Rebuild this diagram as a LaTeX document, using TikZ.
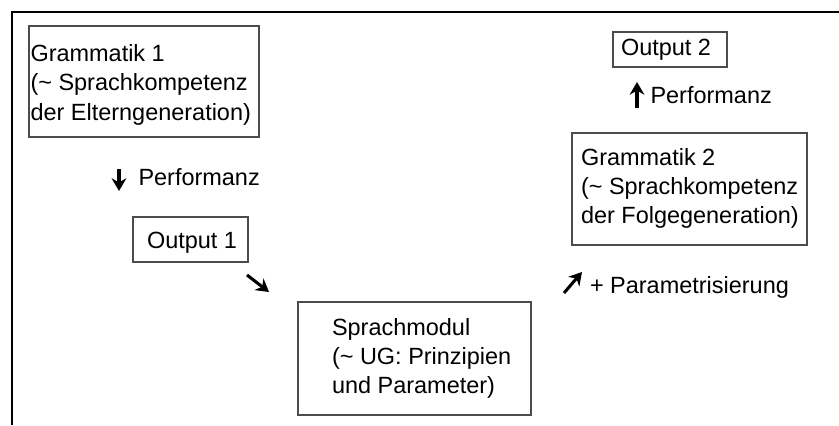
\documentclass[tikz,border=0pt]{standalone}
\usepackage{fontspec}
\setmainfont{Liberation Sans}
\usetikzlibrary{arrows.meta,shadows}
\begin{document}
\begin{tikzpicture}[x=0.75pt,y=-0.75pt,
  every node/.style={inner sep=0pt, outer sep=0pt, font=\fontsize{17.6pt}{22.1pt}\selectfont},
  boxnode/.style={draw=black!70, line width=0.8pt, fill=white, rectangle,
    drop shadow={shadow xshift=1.1pt, shadow yshift=-1.1pt, opacity=1, fill=black}},
  txt/.style={align=left, anchor=north west},
  stxt/.style={anchor=base west},
  arr/.style={line width=2.3pt, -{Stealth[length=9.5pt,width=11pt]}},
  frameline/.style={line width=1.6pt}]
\useasboundingbox (0,0) rectangle (839,425);
% frame
\coordinate (fl) at (12,425);
\coordinate (ftl) at (12,12);
\coordinate (fr) at (839,12);
\draw[frameline] (fl) -- (ftl) -- (fr);
% boxes
\node[boxnode, minimum width=230*0.75pt, minimum height=111*0.75pt, anchor=north west] (g1) at (29,26) {};
\node[boxnode, minimum width=115*0.75pt, minimum height=45*0.75pt, anchor=north west] (o1) at (133,217) {};
\node[boxnode, minimum width=233*0.75pt, minimum height=113*0.75pt, anchor=north west] (sm) at (298,302) {};
\node[boxnode, minimum width=114*0.75pt, minimum height=35*0.75pt, anchor=north west] (o2) at (613,32) {};
\node[boxnode, minimum width=235*0.75pt, minimum height=112*0.75pt, anchor=north west] (g2) at (572,133) {};
% texts
\node[txt] (g1t) at (30.5,44.5) {Grammatik 1\\(\textasciitilde{} Sprachkompetenz\\der Elterngeneration)};
\node[stxt] (o1t) at (147,248) {Output 1};
\node[txt] (smt) at (332,318) {Sprachmodul\\(\textasciitilde{} UG: Prinzipien\\und Parameter)};
\node[stxt] (o2t) at (621,55) {Output 2};
\node[txt] (g2t) at (581,148) {Grammatik 2\\(\textasciitilde{} Sprachkompetenz\\der Folgegeneration)};
\node[stxt] (p1) at (138.5,185) {Performanz};
\node[stxt] (p2) at (650.5,103) {Performanz};
\node[stxt] (par) at (590,293) {+ Parametrisierung};
% arrows
\coordinate (a1s) at (119,169); \coordinate (a1e) at (119,191);
\coordinate (a2s) at (247,275); \coordinate (a2e) at (269,292);
\coordinate (a3s) at (564,293); \coordinate (a3e) at (582,272);
\coordinate (a4s) at (637,108); \coordinate (a4e) at (637,82);
\draw[arr] (a1s) -- (a1e);
\draw[arr] (a2s) -- (a2e);
\draw[arr] (a3s) -- (a3e);
\draw[arr] (a4s) -- (a4e);
\end{tikzpicture}
\end{document}
